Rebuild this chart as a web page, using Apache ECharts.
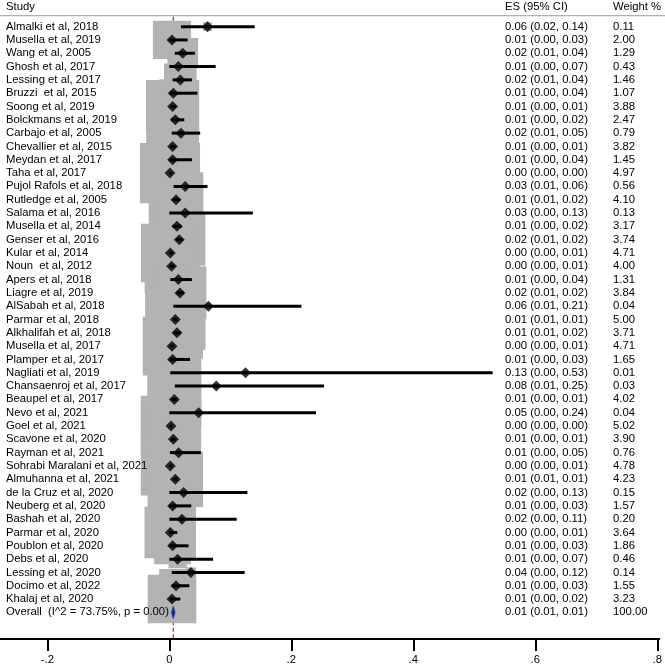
<!DOCTYPE html>
<html><head><meta charset="utf-8">
<script src="https://cdn.jsdelivr.net/npm/echarts@6/dist/echarts.min.js"></script>
<style>html,body{margin:0;padding:0;background:#fff}#c{width:665px;height:666px}</style>
</head><body><div id="c"></div>
<script>
const studies = ['Almalki et al, 2018','Musella et al, 2019','Wang et al, 2005','Ghosh et al, 2017','Lessing et al, 2017','Bruzzi  et al, 2015','Soong et al, 2019','Bolckmans et al, 2019','Carbajo et al, 2005','Chevallier et al, 2015','Meydan et al, 2017','Taha et al, 2017','Pujol Rafols et al, 2018','Rutledge et al, 2005','Salama et al, 2016','Musella et al, 2014','Genser et al, 2016','Kular et al, 2014','Noun  et al, 2012','Apers et al, 2018','Liagre et al, 2019','AlSabah et al, 2018','Parmar et al, 2018','Alkhalifah et al, 2018','Musella et al, 2017','Plamper et al, 2017','Nagliati et al, 2019','Chansaenroj et al, 2017','Beaupel et al, 2017','Nevo et al, 2021','Goel et al, 2021','Scavone et al, 2020','Rayman et al, 2021','Sohrabi Maralani et al, 2021','Almuhanna et al, 2021','de la Cruz et al, 2020','Neuberg et al, 2020','Bashah et al, 2020','Parmar et al, 2020','Poublon et al, 2020','Debs et al, 2020','Lessing et al, 2020','Docimo et al, 2022','Khalaj et al, 2020'];
const esValues = [0.0626,0.0044,0.022,0.0147,0.018,0.0065,0.0054,0.0098,0.019,0.0054,0.0054,0.001,0.026,0.011,0.026,0.0125,0.0163,0.0016,0.0038,0.0147,0.0174,0.064,0.0098,0.0125,0.0044,0.0054,0.125,0.077,0.0082,0.048,0.0027,0.0065,0.0152,0.0016,0.0098,0.0234,0.0054,0.0207,0.0016,0.0054,0.0136,0.0354,0.011,0.0044];
const ciLow = [0.019,0.0,0.009,0.0,0.0054,0.0,0.002,0.003,0.004,0.002,0.0,0.0,0.007,0.006,0.0,0.005,0.011,0.0,0.001,0.0016,0.012,0.0065,0.007,0.008,0.001,0.0,0.0016,0.009,0.004,0.0,0.001,0.003,0.001,0.0,0.007,0.0,0.0,0.0,0.0,0.0,0.0,0.004,0.004,0.001];
const ciHigh = [0.140,0.030,0.042,0.076,0.037,0.046,0.011,0.0245,0.0506,0.010,0.037,0.004,0.0626,0.017,0.137,0.021,0.022,0.006,0.008,0.037,0.024,0.2166,0.013,0.018,0.008,0.034,0.530,0.2536,0.012,0.2405,0.005,0.010,0.0517,0.005,0.013,0.128,0.036,0.1105,0.013,0.0316,0.0718,0.1235,0.0327,0.018];
const weights = [0.11,2.00,1.29,0.43,1.46,1.07,3.88,2.47,0.79,3.82,1.45,4.97,0.56,4.10,0.13,3.17,3.74,4.71,4.00,1.31,3.84,0.04,5.00,3.71,4.71,1.65,0.01,0.03,4.02,0.04,5.02,3.90,0.76,4.78,4.23,0.15,1.57,0.20,3.64,1.86,0.46,0.14,1.55,3.23];
const esLabels = ['0.06 (0.02, 0.14)','0.01 (0.00, 0.03)','0.02 (0.01, 0.04)','0.01 (0.00, 0.07)','0.02 (0.01, 0.04)','0.01 (0.00, 0.04)','0.01 (0.00, 0.01)','0.01 (0.00, 0.02)','0.02 (0.01, 0.05)','0.01 (0.00, 0.01)','0.01 (0.00, 0.04)','0.00 (0.00, 0.00)','0.03 (0.01, 0.06)','0.01 (0.01, 0.02)','0.03 (0.00, 0.13)','0.01 (0.00, 0.02)','0.02 (0.01, 0.02)','0.00 (0.00, 0.01)','0.00 (0.00, 0.01)','0.01 (0.00, 0.04)','0.02 (0.01, 0.02)','0.06 (0.01, 0.21)','0.01 (0.01, 0.01)','0.01 (0.01, 0.02)','0.00 (0.00, 0.01)','0.01 (0.00, 0.03)','0.13 (0.00, 0.53)','0.08 (0.01, 0.25)','0.01 (0.00, 0.01)','0.05 (0.00, 0.24)','0.00 (0.00, 0.00)','0.01 (0.00, 0.01)','0.01 (0.00, 0.05)','0.00 (0.00, 0.01)','0.01 (0.01, 0.01)','0.02 (0.00, 0.13)','0.01 (0.00, 0.03)','0.02 (0.00, 0.11)','0.00 (0.00, 0.01)','0.01 (0.00, 0.03)','0.01 (0.00, 0.07)','0.04 (0.00, 0.12)','0.01 (0.00, 0.03)','0.01 (0.00, 0.02)'];
const overallLabel = 'Overall  (I^2 = 73.75%, p = 0.00)';
const overallES = 0.0065;
const overallLow = 0.0035;
const overallHigh = 0.0095;
const overallText = '0.01 (0.01, 0.01)';
const overallWeight = 100;
const xTicks = [-0.2, 0, 0.2, 0.4, 0.6, 0.8];
const headers = ['Study', 'ES (95% CI)', 'Weight %'];

const FONT = '11.3px "Liberation Sans", Arial, Helvetica, sans-serif';
const TXT = '#000';
const n = studies.length;
const colX = [6, 505, 613];

function txt(x, y, s) {
  return {type: 'text', x: x, y: y, silent: true,
    style: {text: s, x: 0, y: 0, font: FONT, fill: TXT, align: 'left', verticalAlign: 'middle', textAlign: 'left', textVerticalAlign: 'middle'}};
}

const chart = echarts.init(document.getElementById('c'), null, {renderer: 'canvas'});
chart.setOption({
  animation: false,
  backgroundColor: '#fff',
  grid: {left: 0, right: 3, top: 0, bottom: 27, containLabel: false},
  xAxis: {
    type: 'value', min: -0.2776, max: 0.8033,
    splitLine: {show: false},
    axisLine: {show: true, onZero: false, lineStyle: {color: '#000', width: 2}},
    axisTick: {show: true, customValues: xTicks, length: 12, inside: false, lineStyle: {color: '#000', width: 2}},
    axisLabel: {show: true, customValues: xTicks, margin: 15, color: TXT, fontSize: 11.3, fontFamily: '"Liberation Sans", Arial, sans-serif',
      formatter: v => v === 0 ? '0' : (v < 0 ? '-' : '') + Math.abs(v).toFixed(1).replace('0.', '.')}
  },
  yAxis: {type: 'value', inverse: true, min: -2, max: 46, show: false},
  series: [
    {
      type: 'custom', name: 'overallLine', z: 1, silent: true, clip: false,
      data: [[overallES]],
      encode: {x: 0},
      renderItem: (params, api) => {
        const a = api.coord([api.value(0), -0.75]);
        const b = api.coord([api.value(0), 46]);
        return {type: 'line', shape: {x1: a[0], y1: a[1], x2: b[0], y2: b[1]},
          style: {stroke: '#b0303a', lineWidth: 1.3, lineDash: [4, 2.5]}};
      }
    },
    {
      type: 'scatter', name: 'weights', z: 2, silent: true,
      symbol: 'rect',
      data: studies.map((s, i) => [esValues[i], i, weights[i]]),
      symbolSize: v => 27 * Math.sqrt(v[2]),
      itemStyle: {color: '#b3b3b3', opacity: 1},
      emphasis: {disabled: true}
    },
    {
      type: 'custom', name: 'ci', z: 3, silent: true, clip: false,
      data: studies.map((s, i) => [ciLow[i], ciHigh[i], i]),
      encode: {x: [0, 1], y: 2},
      renderItem: (params, api) => {
        const a = api.coord([api.value(0), api.value(2)]);
        const b = api.coord([api.value(1), api.value(2)]);
        return {type: 'line', shape: {x1: a[0], y1: a[1], x2: b[0], y2: b[1]},
          style: {stroke: '#000', lineWidth: 3}};
      }
    },
    {
      type: 'scatter', name: 'es', z: 4, silent: true,
      symbol: 'diamond', symbolSize: [11, 11],
      data: studies.map((s, i) => [esValues[i], i]),
      itemStyle: {color: '#000'},
      emphasis: {disabled: true}
    },
    {
      type: 'custom', name: 'overall', z: 5, silent: true, clip: false,
      data: [[overallLow, overallES, overallHigh, n]],
      encode: {x: [0, 2], y: 3},
      renderItem: (params, api) => {
        const y = api.value(3);
        const l = api.coord([api.value(0), y]);
        const c = api.coord([api.value(1), y]);
        const r = api.coord([api.value(2), y]);
        const h = 6.2;
        return {type: 'polygon', shape: {points: [[l[0], l[1]], [c[0], c[1] - h], [r[0], r[1]], [c[0], c[1] + h]]},
          style: {fill: '#1d2a8c', stroke: '#2b3aa8', lineWidth: 0.8}};
      }
    },
    {
      type: 'custom', name: 'text', z: 6, silent: true, clip: false,
      data: studies.map((s, i) => [i]).concat([[n]]),
      encode: {y: 0},
      renderItem: (params, api) => {
        const i = api.value(0);
        const y = api.coord([0, i])[1];
        const isOv = i === n;
        const name = isOv ? overallLabel : studies[i];
        const es = isOv ? overallText : esLabels[i];
        const w = isOv ? overallWeight : weights[i];
        return {type: 'group', children: [
          txt(colX[0], y, name), txt(colX[1], y, es), txt(colX[2], y, w.toFixed(2))
        ]};
      }
    },
    {
      type: 'custom', name: 'header', z: 6, silent: true, clip: false,
      data: [[-1.5, -0.83]],
      encode: {y: 0},
      renderItem: (params, api) => {
        const y = api.coord([0, api.value(0)])[1];
        const ys = api.coord([0, api.value(1)])[1];
        return {type: 'group', children: [
          txt(colX[0], y, headers[0]), txt(colX[1], y, headers[1]), txt(colX[2], y, headers[2]),
          {type: 'line', shape: {x1: 0, y1: ys, x2: 665, y2: ys}, style: {stroke: '#b0b0b0', lineWidth: 1.4}}
        ]};
      }
    }
  ]
});
</script></body></html>
